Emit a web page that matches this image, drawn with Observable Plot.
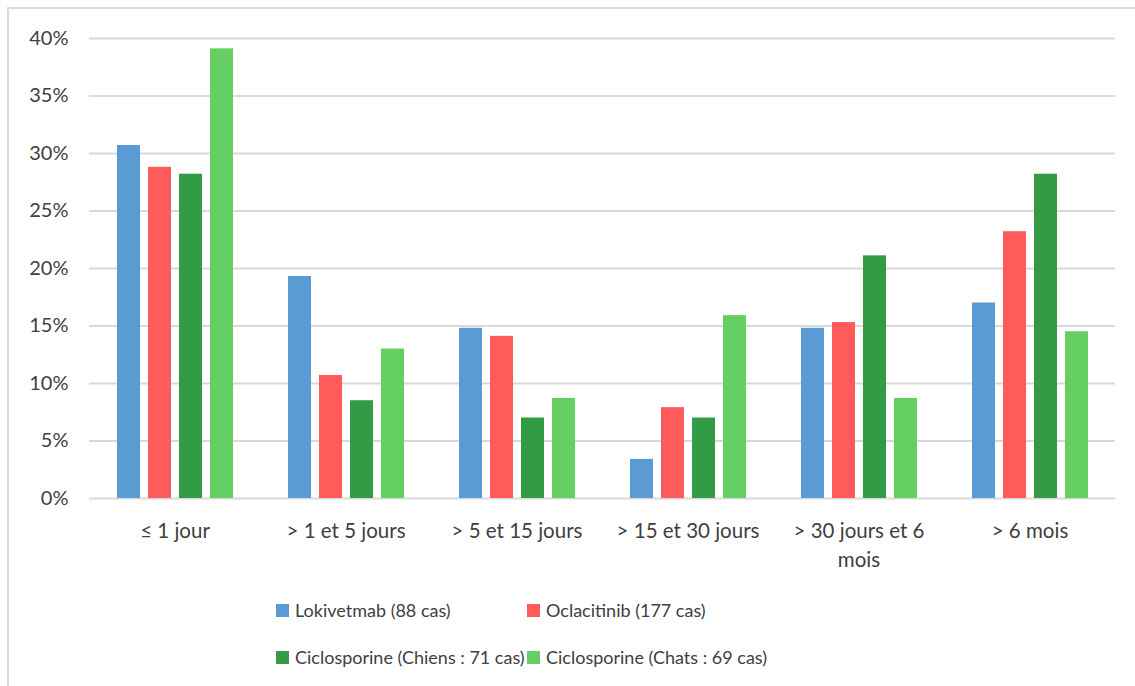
<!DOCTYPE html>
<html><head><meta charset="utf-8">
<script src="https://cdn.jsdelivr.net/npm/d3@7"></script>
<script src="https://cdn.jsdelivr.net/npm/@observablehq/plot@0.6"></script>
<style>
body{margin:0;background:#fff;font-family:Lato,"Open Sans",sans-serif;}
#wrap{position:relative;width:1135px;height:686px;overflow:hidden;background:#fff;}
#frame{position:absolute;left:7px;top:7px;width:1150px;height:700px;border:2px solid #d9d9d9;box-sizing:border-box;}
#chart{position:absolute;left:0;top:0;}
#legend{position:absolute;left:276px;top:596px;display:grid;grid-template-columns:251px 300px;grid-auto-rows:47px;font-size:18px;color:#404040;}
.item{display:flex;align-items:center;height:28px;white-space:nowrap;}
.sw{width:13px;height:13px;margin-right:6px;flex:none;}
</style></head><body>
<div id="wrap"><div id="frame"></div><div id="chart"></div><div id="legend"></div></div>
<script>
const categories = ["≤ 1 jour", "> 1 et 5 jours", "> 5 et 15 jours", "> 15 et 30 jours", "> 30 jours et 6 mois", "> 6 mois"];
const tickLabels = ["≤ 1 jour", "> 1 et 5 jours", "> 5 et 15 jours", "> 15 et 30 jours", "> 30 jours et 6\nmois", "> 6 mois"];
const series = ["Lokivetmab (88 cas)", "Oclacitinib (177 cas)", "Ciclosporine (Chiens : 71 cas)", "Ciclosporine (Chats : 69 cas)"];
const lokivetmab = [30.7, 19.3, 14.8, 3.4, 14.8, 17.0];
const oclacitinib = [28.8, 10.7, 14.1, 7.9, 15.3, 23.2];
const cicloChiens = [28.2, 8.5, 7.0, 7.0, 21.1, 28.2];
const cicloChats = [39.1, 13.0, 8.7, 15.9, 8.7, 14.5];
const colors = ["#5B9BD5", "#FF5B5B", "#339A45", "#66CF63"];
const yTicks = [0, 5, 10, 15, 20, 25, 30, 35, 40];

const valuesBySeries = [lokivetmab, oclacitinib, cicloChiens, cicloChats];
const data = [];
categories.forEach((c, i) => series.forEach((s, j) => data.push({cat: c, series: s, value: valuesBySeries[j][i]})));

const chart = Plot.plot({
  width: 1135, height: 590,
  marginLeft: 88, marginRight: 19, marginTop: 38, marginBottom: 92,
  style: {fontFamily: "Lato, 'Open Sans', sans-serif", fontSize: "20px", color: "#404040", background: "transparent"},
  fx: {domain: categories, padding: 0, label: null},
  x: {domain: series, paddingInner: 0.26, paddingOuter: 0.866, axis: null},
  y: {domain: [0, 40]},
  color: {domain: series, range: colors},
  marks: [
    Plot.gridY(yTicks, {stroke: "#d9d9d9", strokeOpacity: 1, strokeWidth: 2}),
    Plot.barY(data, {fx: "cat", x: "series", y: "value", fill: "series"}),
    Plot.axisY(yTicks, {tickSize: 0, tickPadding: 21, tickFormat: d => d + "%", fontSize: 20, fill: "#404040", label: null}),
    Plot.axisFx({anchor: "bottom", tickSize: 0, tickPadding: 18, tickFormat: d => tickLabels[categories.indexOf(d)], lineHeight: 1.45, fontSize: 20.5, fill: "#404040", label: null})
  ]
});
document.getElementById("chart").appendChild(chart);

const legend = document.getElementById("legend");
series.forEach((s, j) => {
  const it = document.createElement("div");
  it.className = "item";
  it.innerHTML = `<span class="sw" style="background:${colors[j]}"></span><span>${s}</span>`;
  legend.appendChild(it);
});
</script>
</body></html>
